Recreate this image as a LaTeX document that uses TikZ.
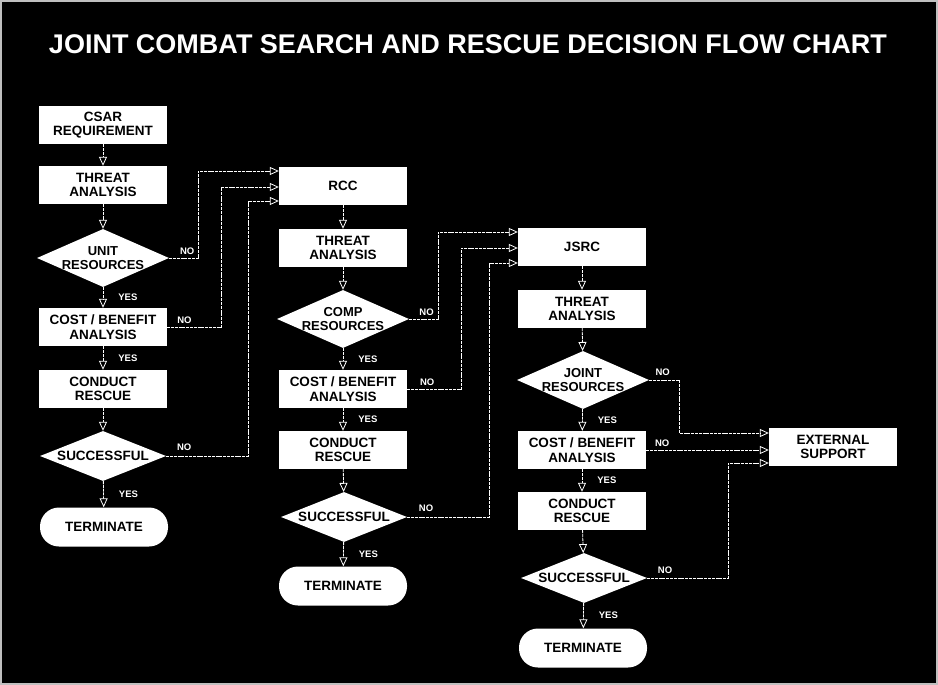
\documentclass[tikz,border=0pt]{standalone}
\usepackage{fontspec}
\setmainfont{Liberation Sans}
\usetikzlibrary{shapes.geometric,arrows.meta}

\begin{document}
\begin{tikzpicture}[x=1pt, y=-1pt,
    procbox/.style={rectangle, fill=white, text=black, minimum width=128pt, minimum height=38pt, inner sep=0pt, align=center, font=\fontsize{13.5}{14.5}\selectfont\bfseries},
    decide/.style={diamond, fill=white, text=black, aspect=2.3, inner xsep=-12pt, inner ysep=-4pt, minimum width=132pt, minimum height=58pt, align=center, font=\fontsize{13}{14}\selectfont\bfseries},
    endcap/.style={rectangle, rounded corners=19pt, fill=white, text=black, minimum width=128pt, minimum height=39pt, inner sep=0pt, font=\fontsize{13.5}{14.5}\selectfont\bfseries},
    conn/.style={white, line width=0.8pt, dash pattern=on 3pt off 0.8pt, -{Triangle[open, length=9pt, width=8pt]}},
    lab/.style={white, inner sep=1pt, font=\fontsize{9.5}{11}\selectfont\bfseries}]
    % Background and frame
    \fill[black] (0,0) rectangle (938,685);
    \draw[gray!50, line width=1.5pt] (1,1) rectangle (937,684);
    \useasboundingbox (0,0) rectangle (938,685);
    % Title
    \node[white, font=\fontsize{27}{31}\selectfont\bfseries] (title) at (468,44) {JOINT COMBAT SEARCH AND RESCUE DECISION FLOW CHART};
    % Unit level
    \node[procbox] (csar) at (103,125) {CSAR\\REQUIREMENT};
    \node[procbox] (threatA) at (103,185) {THREAT\\ANALYSIS};
    \node[decide] (unitres) at (103,258) {UNIT\\RESOURCES};
    \node[procbox] (costA) at (103,327) {COST / BENEFIT\\ANALYSIS};
    \node[procbox] (conductA) at (103,389) {CONDUCT\\RESCUE};
    \node[decide, minimum width=126pt, minimum height=50pt, font=\fontsize{13.5}{14.5}\selectfont\bfseries] (succA) at (103,456) {SUCCESSFUL};
    \node[endcap] (termA) at (104,527) {TERMINATE};
    % Component level
    \node[procbox] (rcc) at (343,186) {RCC};
    \node[procbox] (threatB) at (343,248) {THREAT\\ANALYSIS};
    \node[decide] (compres) at (343,319) {COMP\\RESOURCES};
    \node[procbox] (costB) at (343,389) {COST / BENEFIT\\ANALYSIS};
    \node[procbox] (conductB) at (343,450) {CONDUCT\\RESCUE};
    \node[decide, minimum width=126pt, minimum height=50pt, font=\fontsize{13.5}{14.5}\selectfont\bfseries] (succB) at (344,517) {SUCCESSFUL};
    \node[endcap] (termB) at (343,586) {TERMINATE};
    % Joint level
    \node[procbox] (jsrc) at (582,247) {JSRC};
    \node[procbox] (threatC) at (582,309) {THREAT\\ANALYSIS};
    \node[decide] (jointres) at (583,380) {JOINT\\RESOURCES};
    \node[procbox] (costC) at (582,450) {COST / BENEFIT\\ANALYSIS};
    \node[procbox] (conductC) at (582,511) {CONDUCT\\RESCUE};
    \node[decide, minimum width=126pt, minimum height=50pt, font=\fontsize{13.5}{14.5}\selectfont\bfseries] (succC) at (584,578) {SUCCESSFUL};
    \node[endcap] (termC) at (583,648) {TERMINATE};
    \node[procbox] (ext) at (833,447) {EXTERNAL\\SUPPORT};
    % Flow down each column
    \draw[conn] (csar) -- (threatA);
    \draw[conn] (threatA) -- (unitres);
    \draw[conn] (unitres) -- node[lab, right=14pt] {YES} (costA);
    \draw[conn] (costA) -- node[lab, right=14pt] {YES} (conductA);
    \draw[conn] (conductA) -- (succA);
    \draw[conn] (succA) -- node[lab, right=14pt] {YES} (termA);
    \draw[conn] (rcc) -- (threatB);
    \draw[conn] (threatB) -- (compres);
    \draw[conn] (compres) -- node[lab, right=14pt] {YES} (costB);
    \draw[conn] (costB) -- node[lab, right=14pt] {YES} (conductB);
    \draw[conn] (conductB) -- (succB);
    \draw[conn] (succB) -- node[lab, right=14pt] {YES} (termB);
    \draw[conn] (jsrc) -- (threatC);
    \draw[conn] (threatC) -- (jointres);
    \draw[conn] (jointres) -- node[lab, right=14pt] {YES} (costC);
    \draw[conn] (costC) -- node[lab, right=14pt] {YES} (conductC);
    \draw[conn] (conductC) -- (succC);
    \draw[conn] (succC) -- node[lab, right=14pt] {YES} (termC);
    % NO branches to RCC
    \draw[conn] (unitres.east) -- node[lab, above=2pt, pos=0.62] {NO} ++(29,0) |- ([yshift=15pt]rcc.west);
    \draw[conn] (costA.east) -- node[lab, above=2pt, pos=0.32] {NO} ++(54,0) |- ([yshift=-1pt]rcc.west);
    \draw[conn] (succA.east) -- node[lab, above=4pt, pos=0.22] {NO} ++(82,0) |- ([yshift=-15pt]rcc.west);
    % NO branches to JSRC
    \draw[conn] (compres.east) -- node[lab, above=2pt, pos=0.6] {NO} ++(29,0) |- ([yshift=15pt]jsrc.west);
    \draw[conn] (costB.east) -- node[lab, above=2pt, pos=0.37] {NO} ++(54,0) |- ([yshift=-1pt]jsrc.west);
    \draw[conn] (succB.east) -- node[lab, above=4pt, pos=0.23] {NO} ++(82,0) |- ([yshift=-16pt]jsrc.west);
    % NO branches to external support
    \draw[conn] (jointres.east) -- node[lab, above=3pt, pos=0.45] {NO} ++(30,0) |- ([yshift=14pt]ext.west);
    \draw[conn] (costC.east) -- node[lab, above=2pt, pos=0.13] {NO} (costC.east -| ext.west);
    \draw[conn] (succC.east) -- node[lab, above=3pt, pos=0.22] {NO} ++(81,0) |- ([yshift=-16pt]ext.west);
\end{tikzpicture}
\end{document}
